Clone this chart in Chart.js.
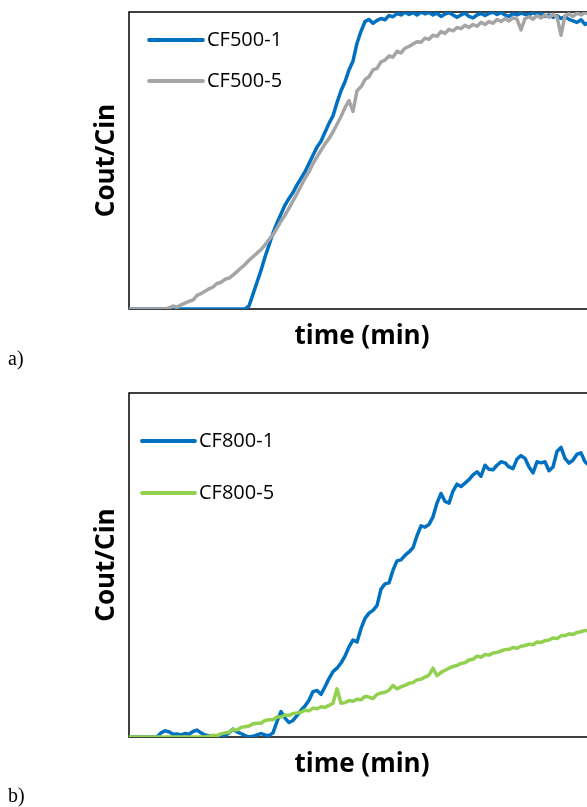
<!DOCTYPE html>
<html>
<head>
<meta charset="utf-8">
<script src="https://cdn.jsdelivr.net/npm/chart.js@4.4.1/dist/chart.umd.min.js"></script>
<style>
	html, body { margin: 0; padding: 0; background: #fff; overflow: hidden; width: 587px; height: 807px; }
	.box { position: absolute; left: 0; width: 600px; }
	.tag { position: absolute; left: 8px; font-family: "Liberation Serif", serif; font-size: 20px; line-height: 20px; color: #000; }
</style>
</head>
<body>
<div class="box" style="top:0;height:360px"><canvas id="chart-a"></canvas></div>
<div class="tag" style="top:348px">a)</div>
<div class="box" style="top:380px;height:410px"><canvas id="chart-b"></canvas></div>
<div class="tag" style="top:785px">b)</div>
<script>
// TIME AXIS (same sampling for both panels)
const timeMin = [0,1,2,3,4,5,6,7,8,9,10,11,12,13,14,15,16,17,18,19,20,21,22,23,24,25,26,27,28,29,
	30,31,32,33,34,35,36,37,38,39,40,41,42,43,44,45,46,47,48,49,50,51,52,53,54,55,56,57,58,59,
	60,61,62,63,64,65,66,67,68,69,70,71,72,73,74,75,76,77,78,79,80,81,82,83,84,85,86,87,88,89,
	90,91,92,93,94,95,96,97,98,99,100,101,102,103,104,105,106,107,108,109,110,111,112,113,114,115,116];

// PANEL A
const labelsA = ['CF500-1', 'CF500-5'];
const cf500_1 = [0,0,0,0,0,0,0,0,0,0,0,0,0,0,0,0,0,0,0,0,0,0,0,0,0,0,0,0,0,0,
	0.01,0.05,0.09,0.13,0.175,0.215,0.256,0.29,0.32,0.35,0.372,0.392,0.418,0.44,0.462,0.49,0.518,0.545,0.565,0.595,
	0.625,0.65,0.695,0.735,0.765,0.805,0.835,0.895,0.935,0.968,0.975,0.962,0.972,0.978,0.974,0.988,0.984,0.995,0.99,1.0,
	0.992,0.998,0.99,1.0,0.994,0.999,0.99,0.996,0.985,0.993,0.998,0.99,0.982,0.99,0.996,0.985,0.98,0.99,0.995,0.988,
	0.995,1.0,0.992,0.998,0.99,0.985,0.995,0.99,0.996,0.992,0.99,0.998,0.99,0.995,0.985,0.99,0.982,0.988,0.978,0.985,
	0.975,0.97,0.965,0.974,0.958,0.965,0.96];
const cf500_5 = [0,0,0,0,0,0,0,0,0,0,
	0.004,0.01,0.006,0.014,0.02,0.026,0.03,0.046,0.052,0.06,0.068,0.074,0.086,0.09,0.1,0.104,0.114,0.126,0.138,0.15,
	0.164,0.176,0.188,0.2,0.216,0.234,0.25,0.272,0.296,0.316,0.34,0.364,0.388,0.414,0.44,0.462,0.49,0.512,0.534,0.556,
	0.574,0.596,0.622,0.648,0.678,0.702,0.665,0.735,0.748,0.772,0.782,0.805,0.81,0.832,0.838,0.852,0.848,0.868,0.862,0.878,
	0.884,0.892,0.9,0.898,0.912,0.908,0.922,0.918,0.934,0.928,0.942,0.936,0.948,0.944,0.955,0.948,0.958,0.952,0.965,0.958,
	0.968,0.962,0.975,0.968,0.978,0.97,0.98,0.976,0.94,0.978,0.984,0.976,0.988,0.98,0.99,0.982,0.992,0.984,0.922,0.988,
	0.994,0.985,0.996,0.99,0.998,0.992,0.996];

// PANEL B
const labelsB = ['CF800-1', 'CF800-5'];
const cf800_1 = [0,0,0,0,0,0,0,0,0.012,0.018,0.015,0.008,0.009,0.006,0.01,0.008,0.016,0.02,0.012,0.006,
	0.004,0,0.003,0.006,0.004,0.012,0.023,0.015,0.01,0.004,0,0.002,0.006,0.01,0.006,0.004,0.012,0.045,0.074,0.055,
	0.042,0.048,0.062,0.078,0.09,0.107,0.132,0.135,0.124,0.146,0.17,0.19,0.2,0.215,0.235,0.262,0.282,0.276,0.315,0.345,
	0.36,0.368,0.382,0.43,0.445,0.448,0.485,0.512,0.515,0.528,0.538,0.55,0.585,0.614,0.61,0.618,0.64,0.68,0.708,0.685,
	0.68,0.715,0.735,0.728,0.738,0.748,0.762,0.771,0.758,0.79,0.778,0.777,0.79,0.8,0.797,0.785,0.78,0.808,0.818,0.81,
	0.785,0.768,0.8,0.797,0.8,0.774,0.785,0.83,0.842,0.81,0.796,0.805,0.822,0.826,0.8,0.79,0.8];
const cf800_5 = [0,0,0,0,0,0,0,0,0,0,0,0,0,0,0,0,0,0,0,0,
	0.002,0.005,0.004,0.009,0.012,0.014,0.022,0.02,0.028,0.03,0.032,0.038,0.04,0.04,0.048,0.05,0.05,0.058,0.058,0.064,
	0.063,0.068,0.07,0.072,0.078,0.076,0.084,0.082,0.088,0.086,0.092,0.098,0.14,0.098,0.1,0.106,0.104,0.11,0.108,0.118,
	0.116,0.112,0.124,0.128,0.13,0.136,0.15,0.14,0.146,0.15,0.156,0.158,0.166,0.168,0.174,0.18,0.2,0.178,0.188,0.194,
	0.2,0.205,0.208,0.214,0.216,0.224,0.226,0.235,0.232,0.24,0.238,0.244,0.246,0.25,0.254,0.255,0.26,0.258,0.264,0.266,
	0.27,0.268,0.276,0.275,0.28,0.282,0.288,0.286,0.294,0.295,0.3,0.298,0.304,0.306,0.31,0.308,0.312];

// COLORS
const blue = '#0070C0';
const gray = '#A5A5A5';
const green = '#92D050';

// BUILD {x, y} POINTS FROM THE ARRAYS
function toPoints(values) {
	return values.map((v, i) => ({ x: timeMin[i], y: v }));
}

// FRAME AROUND THE PLOT AND THE LEGEND INSIDE IT
const frameLegend = {
	id: 'frameLegend',
	beforeDatasetsDraw(chart) {
		let { ctx, chartArea } = chart;
		ctx.save();
		ctx.strokeStyle = '#000';
		ctx.lineWidth = 1.5;
		ctx.strokeRect(chartArea.left, chartArea.top, chartArea.right - chartArea.left, chartArea.bottom - chartArea.top);
		ctx.restore();
	},
	afterDraw(chart, args, opts) {
		let { ctx, chartArea } = chart;
		ctx.save();
		ctx.font = '20px "Open Sans"';
		ctx.textBaseline = 'middle';
		ctx.lineCap = 'round';
		chart.data.datasets.forEach((ds, i) => {
			let x = chartArea.left + opts.left;
			let y = chartArea.top + opts.top + i * opts.gap;
			ctx.strokeStyle = ds.borderColor;
			ctx.lineWidth = 3.8;
			ctx.beginPath();
			ctx.moveTo(x, y);
			ctx.lineTo(x + opts.lineLen, y);
			ctx.stroke();
			ctx.fillStyle = '#000';
			ctx.fillText(ds.label, x + opts.lineLen + 4, y);
		});
		ctx.restore();
	}
};

const titleFont = { family: '"Open Sans"', size: 26, weight: 'bold', lineHeight: 1.2 };

function makeChart(canvasId, labels, series, colors, padding, legendPos) {
	const ctx = document.getElementById(canvasId);
	return new Chart(ctx, {
		type: 'line',
		data: {
			datasets: series.map((s, i) => ({
				label: labels[i],
				data: toPoints(s),
				borderColor: colors[i],
				backgroundColor: colors[i],
				borderWidth: 3.5,
				pointRadius: 0,
				tension: 0,
				borderJoinStyle: 'round',
				borderCapStyle: 'round',
				order: series.length - i,
			}))
		},
		options: {
			responsive: true,
			maintainAspectRatio: false,
			animation: false,
			layout: { padding: padding },
			scales: {
				x: {
					type: 'linear',
					min: 0,
					max: 116.5,
					grid: { display: false, drawTicks: false },
					border: { display: false },
					ticks: { display: false },
					title: { display: true, text: 'time (min)', color: '#000', font: titleFont, padding: { top: 12, bottom: 0 } }
				},
				y: {
					min: 0,
					max: 1,
					grid: { display: false, drawTicks: false },
					border: { display: false },
					ticks: { display: false },
					title: { display: true, text: 'Cout/Cin', color: '#000', font: titleFont, padding: { top: 91.4, bottom: 6.4 } }
				}
			},
			plugins: {
				legend: { display: false },
				tooltip: { enabled: false },
				frameLegend: legendPos
			}
		},
		plugins: [frameLegend]
	});
}

makeChart('chart-a', labelsA, [cf500_1, cf500_5], [blue, gray],
	{ left: 0, top: 12, right: 5, bottom: 7.8 },
	{ left: 20, top: 28, gap: 41, lineLen: 54 });

makeChart('chart-b', labelsB, [cf800_1, cf800_5], [blue, green],
	{ left: 0, top: 13, right: 5, bottom: 9.8 },
	{ left: 13, top: 48, gap: 52, lineLen: 53 });
</script>
</body>
</html>
